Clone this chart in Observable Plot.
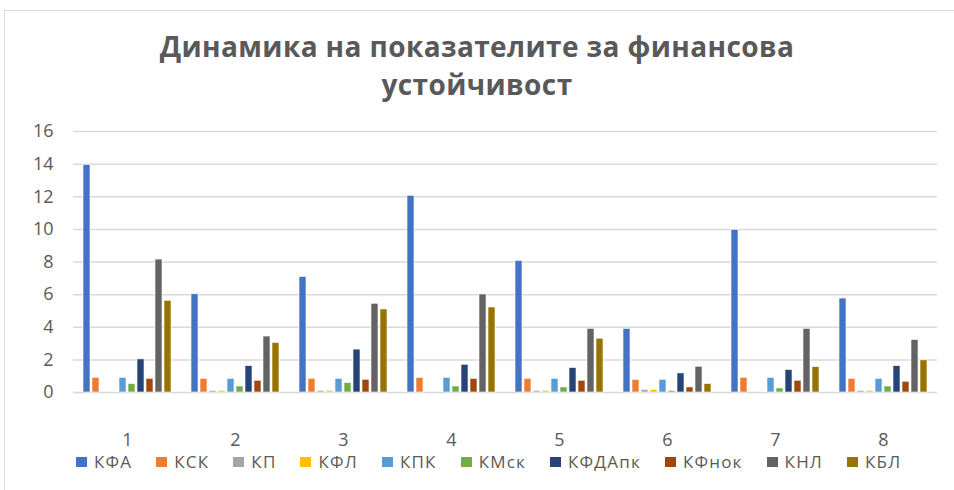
<!DOCTYPE html>
<html>
<head>
<meta charset="utf-8">
<script src="https://cdn.jsdelivr.net/npm/d3@7"></script>
<script src="https://cdn.jsdelivr.net/npm/@observablehq/plot@0.6"></script>
<style>
  html, body { margin: 0; padding: 0; background: #fff; }
  #wrap { position: relative; width: 954px; height: 490px; overflow: hidden; font-family: "Open Sans", sans-serif; }
  #frame { position: absolute; left: 4px; top: 10px; width: 980px; height: 500px; border: 1.5px solid #d9d9d9; box-sizing: border-box; }
  #title { position: absolute; left: 0; width: 954px; top: 27px; text-align: center; color: #595959; font-weight: 700; font-size: 28px; line-height: 38px; letter-spacing: 0.4px; }
  #chart { position: absolute; left: 0; top: 110px; }
  #legend { position: absolute; left: 76px; top: 450px; display: flex; gap: 24px; color: #595959; font-size: 17px; letter-spacing: 1.2px; }
  .item { display: flex; align-items: center; gap: 7px; }
  .sw { width: 11px; height: 10px; display: inline-block; }
</style>
</head>
<body>
<div id="wrap">
  <div id="frame"></div>
  <div id="title">Динамика на показателите за финансова<br>устойчивост</div>
  <div id="chart"></div>
  <div id="legend"></div>
</div>
<script>
const groups = ["1", "2", "3", "4", "5", "6", "7", "8"];
const seriesNames = ["КФА", "КСК", "КП", "КФЛ", "КПК", "КМск", "КФДАпк", "КФнок", "КНЛ", "КБЛ"];
const seriesColors = ["#4472C4", "#ED7D31", "#A5A5A5", "#FFC000", "#5B9BD5", "#70AD47", "#264478", "#9E480E", "#636363", "#997300"];
const yTicks = [0, 2, 4, 6, 8, 10, 12, 14, 16];

const KFA    = [13.95, 6.02, 7.08, 12.06, 8.07, 3.9, 9.97, 5.76];
const KSK    = [0.9, 0.84, 0.84, 0.9, 0.84, 0.78, 0.9, 0.84];
const KP     = [0, 0.1, 0.1, 0, 0.1, 0.16, 0, 0.1];
const KFL    = [0, 0.1, 0.1, 0, 0.1, 0.16, 0, 0.1];
const KPK    = [0.9, 0.84, 0.84, 0.9, 0.84, 0.78, 0.9, 0.84];
const KMsk   = [0.52, 0.37, 0.58, 0.37, 0.31, 0.1, 0.25, 0.37];
const KFDApk = [2.03, 1.62, 2.63, 1.7, 1.5, 1.17, 1.38, 1.62];
const KFnok  = [0.84, 0.72, 0.78, 0.84, 0.72, 0.31, 0.72, 0.66];
const KNL    = [8.15, 3.43, 5.44, 6.01, 3.9, 1.58, 3.9, 3.22];
const KBL    = [5.62, 3.04, 5.09, 5.21, 3.3, 0.52, 1.56, 1.97];

const seriesValues = [KFA, KSK, KP, KFL, KPK, KMsk, KFDApk, KFnok, KNL, KBL];

const data = [];
groups.forEach((g, gi) => {
  seriesNames.forEach((s, si) => {
    data.push({group: g, series: s, value: seriesValues[si][gi]});
  });
});

const chart = Plot.plot({
  width: 954,
  height: 350,
  marginLeft: 72,
  marginRight: 16,
  marginTop: 21,
  marginBottom: 68,
  style: {fontFamily: "'Open Sans', sans-serif", fontSize: "18px", color: "#595959", background: "transparent"},
  fx: {domain: groups, padding: 0, label: null},
  x: {domain: seriesNames, paddingInner: 0.2, paddingOuter: 0.8, axis: null},
  y: {domain: [0, 16], label: null},
  color: {domain: seriesNames, range: seriesColors},
  marks: [
    Plot.ruleY(yTicks, {stroke: "#d9d9d9", strokeWidth: 1.5}),
    Plot.barY(data, {fx: "group", x: "series", y: "value", fill: "series", stroke: "white", strokeWidth: 0.6}),
    Plot.axisY({ticks: yTicks, tickSize: 0, tickPadding: 20, label: null, fontSize: 18}),
    Plot.axisFx({anchor: "bottom", tickSize: 0, tickPadding: 41, label: null, fontSize: 18})
  ]
});
document.getElementById("chart").appendChild(chart);

const legend = document.getElementById("legend");
seriesNames.forEach((s, i) => {
  const it = document.createElement("div");
  it.className = "item";
  const sw = document.createElement("span");
  sw.className = "sw";
  sw.style.background = seriesColors[i];
  const tx = document.createElement("span");
  tx.textContent = s;
  it.appendChild(sw);
  it.appendChild(tx);
  legend.appendChild(it);
});
</script>
</body>
</html>
